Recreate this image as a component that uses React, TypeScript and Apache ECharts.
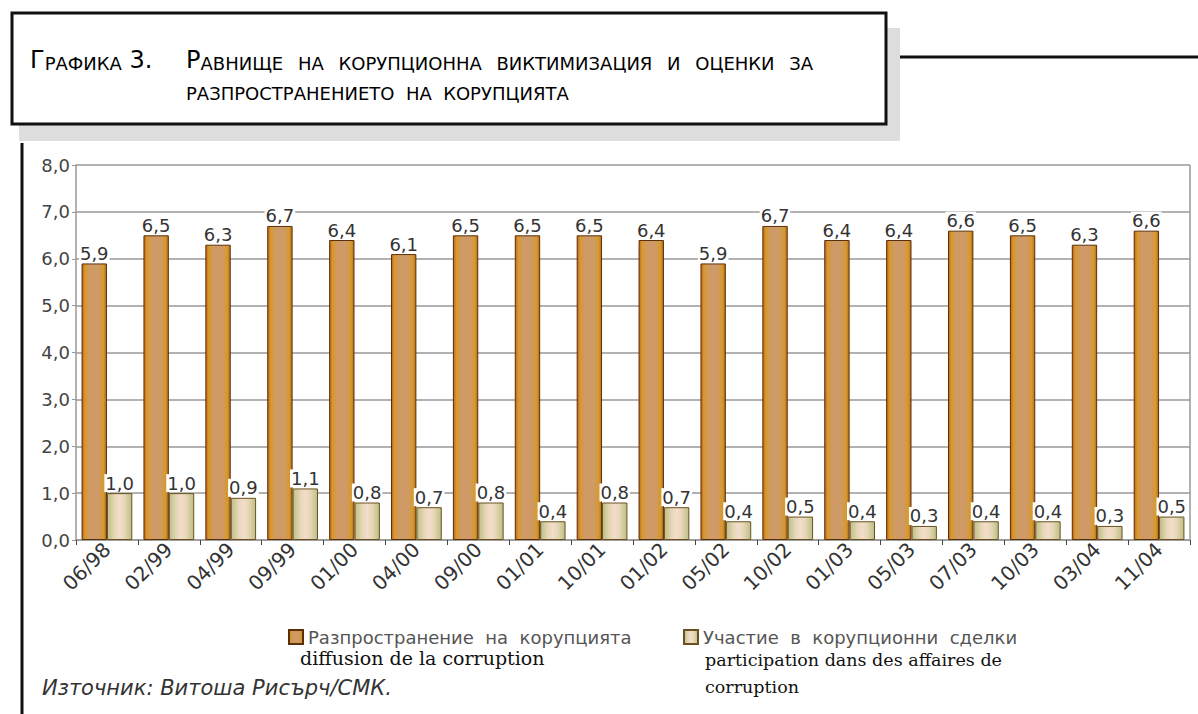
import React, { useEffect, useRef } from 'react';
import * as echarts from 'echarts';

const categories = ['06/98', '02/99', '04/99', '09/99', '01/00', '04/00', '09/00', '01/01', '10/01', '01/02', '05/02', '10/02', '01/03', '05/03', '07/03', '10/03', '03/04', '11/04'];
const diffusion = [5.9, 6.5, 6.3, 6.7, 6.4, 6.1, 6.5, 6.5, 6.5, 6.4, 5.9, 6.7, 6.4, 6.4, 6.6, 6.5, 6.3, 6.6];
const participation = [1.0, 1.0, 0.9, 1.1, 0.8, 0.7, 0.8, 0.4, 0.8, 0.7, 0.4, 0.5, 0.4, 0.3, 0.4, 0.4, 0.3, 0.5];
const seriesNames = ['Разпространение на корупцията', 'Участие в корупционни сделки'];
const frenchNames = ['diffusion de la corruption', 'participation dans des affaires de', 'corruption'];

const fmt = (v: number) => v.toFixed(1).replace('.', ',');

export default function App() {
  const ref = useRef<HTMLDivElement>(null);
  useEffect(() => {
    const chart = echarts.init(ref.current!, null, { renderer: 'svg' });
    const sans = 'DejaVu Sans';
    const orangeFill = new echarts.graphic.LinearGradient(0, 0, 1, 0, [
      { offset: 0, color: '#C4601C' },
      { offset: 0.12, color: '#D69A2C' },
      { offset: 0.32, color: '#CF9A66' },
      { offset: 0.68, color: '#CF9A66' },
      { offset: 0.88, color: '#D69A2C' },
      { offset: 1, color: '#B86A1C' },
    ]);
    const lightFill = new echarts.graphic.LinearGradient(0, 0, 1, 0, [
      { offset: 0, color: '#BDBE86' },
      { offset: 0.3, color: '#E6D8B6' },
      { offset: 0.5, color: '#F4DCCC' },
      { offset: 0.7, color: '#E6D8B6' },
      { offset: 1, color: '#BDBE86' },
    ]);
    const labelCfg = {
      show: true,
      position: 'top',
      distance: 1,
      formatter: (p: any) => fmt(p.value),
      fontSize: 18,
      fontFamily: sans,
      color: '#333',
      backgroundColor: '#fff',
      padding: [0, 1, 0, 1],
    };
    const smallCaps = {
      c: { fontSize: 24, fontFamily: sans, color: '#333', verticalAlign: 'bottom', lineHeight: 26 },
      s: { fontSize: 18, fontFamily: sans, color: '#333', verticalAlign: 'bottom', lineHeight: 26 },
    };
    const gap = ' \u2002';
    chart.setOption({
      animation: false,
      backgroundColor: '#fff',
      grid: { left: 76, top: 165, width: 1114, height: 375, show: false },
      xAxis: {
        type: 'category',
        data: categories,
        axisLine: { show: true, lineStyle: { color: '#999', width: 1.5 } },
        axisTick: { show: true, length: 5, lineStyle: { color: '#444' } },
        axisLabel: { rotate: 45, interval: 0, fontSize: 20, fontFamily: sans, color: '#333', margin: 6 },
      },
      yAxis: {
        type: 'value',
        min: 0,
        max: 8,
        interval: 1,
        axisLine: { show: true, lineStyle: { color: '#999', width: 1.5 } },
        axisTick: { show: true, length: 4, lineStyle: { color: '#999' } },
        axisLabel: { formatter: (v: number) => fmt(v), fontSize: 18, fontFamily: sans, color: '#444', margin: 6 },
        splitLine: { show: true, lineStyle: { color: '#999', width: 1.5 } },
      },
      legend: [
        {
          data: [seriesNames[0]], left: 283, top: 623, itemWidth: 14, itemHeight: 14, icon: 'rect',
          formatter: (n: string) => n.replace(/ /g, '  '),
          textStyle: { fontSize: 18, fontFamily: sans, color: '#555' },
        },
        {
          data: [seriesNames[1]], left: 678, top: 623, itemWidth: 14, itemHeight: 14, icon: 'rect',
          formatter: (n: string) => n.replace(/ /g, '  '),
          textStyle: { fontSize: 18, fontFamily: sans, color: '#555' },
        },
      ],
      series: [
        {
          name: seriesNames[0], type: 'bar', data: diffusion, barGap: '0%', barCategoryGap: '18%',
          itemStyle: { color: orangeFill, borderColor: '#5A300C', borderWidth: 1 },
          label: labelCfg,
        },
        {
          name: seriesNames[1], type: 'bar', data: participation, barGap: '0%', barCategoryGap: '18%',
          itemStyle: { color: lightFill, borderColor: '#6A5020', borderWidth: 1 },
          label: labelCfg,
        },
      ],
      graphic: [
        { type: 'rect', shape: { x: 19, y: 28, width: 881, height: 113 }, style: { fill: '#dddddd' }, silent: true },
        { type: 'rect', shape: { x: 12, y: 13, width: 874, height: 111 }, style: { fill: '#fff', stroke: '#111', lineWidth: 3 }, silent: true },
        { type: 'line', shape: { x1: 900, y1: 57, x2: 1198, y2: 57 }, style: { stroke: '#111', lineWidth: 3 }, silent: true },
        { type: 'line', shape: { x1: 22, y1: 143, x2: 22, y2: 714 }, style: { stroke: '#111', lineWidth: 3 }, silent: true },
        { type: 'line', shape: { x1: 1190, y1: 165, x2: 1190, y2: 540 }, style: { stroke: '#999', lineWidth: 1.5 }, silent: true },
        {
          type: 'text', x: 30, y: 46,
          style: { text: '{c|Г}{s|РАФИКА}{c| 3.}', rich: smallCaps },
          silent: true,
        },
        {
          type: 'text', x: 186, y: 46,
          style: { text: '{c|Р}{s|' + ['АВНИЩЕ', 'НА', 'КОРУПЦИОННА', 'ВИКТИМИЗАЦИЯ', 'И', 'ОЦЕНКИ', 'ЗА'].join(gap) + '}', rich: smallCaps },
          silent: true,
        },
        {
          type: 'text', x: 186, y: 76,
          style: { text: '{s|РАЗПРОСТРАНЕНИЕТО  НА  КОРУПЦИЯТА}', rich: smallCaps },
          silent: true,
        },
        {
          type: 'text', x: 300, y: 648,
          style: { text: frenchNames[0], fontSize: 19, fontFamily: 'DejaVu Serif', fill: '#111' },
          silent: true,
        },
        {
          type: 'text', x: 705, y: 651,
          style: { text: frenchNames[1], fontSize: 17.5, fontFamily: 'DejaVu Serif', fill: '#111' },
          silent: true,
        },
        {
          type: 'text', x: 705, y: 678,
          style: { text: frenchNames[2], fontSize: 17.5, fontFamily: 'DejaVu Serif', fill: '#111' },
          silent: true,
        },
        {
          type: 'text', x: 42, y: 677,
          style: { text: 'Източник: Витоша Рисърч/СМК.', fontSize: 21, fontStyle: 'italic', fontFamily: sans, fill: '#333' },
          silent: true,
        },
      ],
    });
    return () => chart.dispose();
  }, []);
  return <div ref={ref} style={{ position: 'fixed', left: 0, top: 0, width: 1198, height: 714, background: '#fff' }} />;
}
